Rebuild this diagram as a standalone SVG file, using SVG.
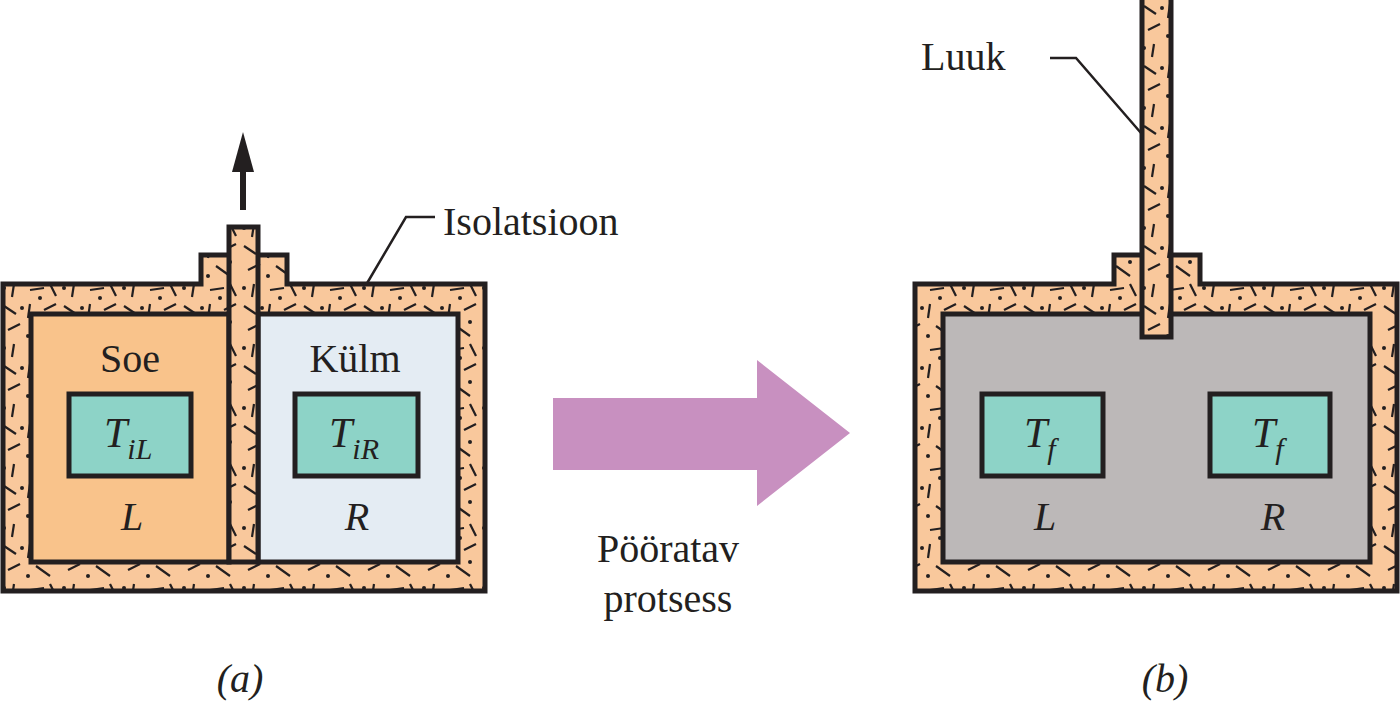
<svg xmlns="http://www.w3.org/2000/svg" width="1400" height="707" viewBox="0 0 1400 707">
<defs>
<pattern id="ins" width="60" height="60" patternUnits="userSpaceOnUse">
<rect width="60" height="60" fill="#f9c89c"/>
<g stroke="#231f20" stroke-width="2.2">
<line x1="4" y1="6" x2="16" y2="14"/><line x1="30" y1="4" x2="28" y2="18"/><line x1="44" y1="10" x2="56" y2="4"/>
<line x1="8" y1="30" x2="20" y2="24"/><line x1="36" y1="26" x2="50" y2="36"/><line x1="14" y1="44" x2="12" y2="57"/>
<line x1="30" y1="50" x2="44" y2="48"/><line x1="50" y1="44" x2="56" y2="56"/>
</g>
<g fill="#231f20"><circle cx="22" cy="8" r="2"/><circle cx="50" cy="22" r="2"/><circle cx="4" cy="48" r="2"/><circle cx="28" cy="36" r="2"/><circle cx="40" cy="58" r="2"/></g>
</pattern>
<style>
.o{stroke:#231f20;stroke-width:5;}
.t{font-family:"Liberation Serif",serif;fill:#231f20;}
.i{font-family:"Liberation Serif",serif;font-style:italic;fill:#231f20;}
.tl{fill:#8dd3c7;stroke:#231f20;stroke-width:5;}
</style>
</defs>
<g id="left">
<path class="o" fill="url(#ins)" d="M3,284 H201 V255 H287 V284 H485 V591 H3 Z"/>
<rect class="o" x="31" y="314" width="198" height="248" fill="#f9c38b"/>
<rect class="o" x="258" y="314" width="200" height="248" fill="#e4ecf3"/>
<rect class="o" x="229" y="227" width="29" height="335" fill="url(#ins)"/>
<rect class="tl" x="69" y="394" width="122" height="82"/>
<rect class="tl" x="295" y="394" width="123" height="82"/>
<text class="t" x="130" y="372" font-size="40" text-anchor="middle">Soe</text>
<text class="t" x="355" y="372" font-size="40" text-anchor="middle">Külm</text>
<text class="i" x="104" y="447" font-size="42">T<tspan font-size="30" dy="12">iL</tspan></text>
<text class="i" x="329" y="447" font-size="42">T<tspan font-size="30" dy="12">iR</tspan></text>
<text class="i" x="132" y="530" font-size="40" text-anchor="middle">L</text>
<text class="i" x="357" y="530" font-size="40" text-anchor="middle">R</text>
</g>
<g id="right">
<path class="o" fill="url(#ins)" d="M915,284 H1114 V255 H1200 V284 H1397 V591 H915 Z"/>
<rect class="o" x="943" y="314" width="427" height="248" fill="#bcb8b8"/>
<rect class="o" x="1142" y="-5" width="29" height="342" fill="url(#ins)"/>
<rect class="tl" x="982" y="394" width="121" height="82"/>
<rect class="tl" x="1210" y="394" width="120" height="82"/>
<text class="i" x="1024" y="447" font-size="42">T<tspan font-size="30" dy="12">f</tspan></text>
<text class="i" x="1252" y="447" font-size="42">T<tspan font-size="30" dy="12">f</tspan></text>
<text class="i" x="1045" y="530" font-size="40" text-anchor="middle">L</text>
<text class="i" x="1273" y="530" font-size="40" text-anchor="middle">R</text>
</g>
<g id="connectors" fill="none" stroke="#231f20" stroke-width="2.5">
<line x1="243" y1="210" x2="243" y2="170" stroke-width="6"/>
<polygon points="243,132 232,172 254,172" fill="#231f20" stroke="none"/>
<polyline points="435,217 406,217 366,285"/>
<polyline points="1050,58 1076,58 1141,133"/>
<polygon points="553,398 757,398 757,360 850,433 757,506 757,470 553,470" fill="#c890c0" stroke="none"/>
</g>
<g id="labels">
<text class="t" x="443" y="235" font-size="40">Isolatsioon</text>
<text class="t" x="921" y="70" font-size="40">Luuk</text>
<text class="t" x="668" y="562" font-size="40" text-anchor="middle">Pööratav</text>
<text class="t" x="668" y="612" font-size="40" text-anchor="middle">protsess</text>
<text class="i" x="240" y="692" font-size="40" text-anchor="middle">(a)</text>
<text class="i" x="1165" y="692" font-size="40" text-anchor="middle">(b)</text>
</g>
</svg>
